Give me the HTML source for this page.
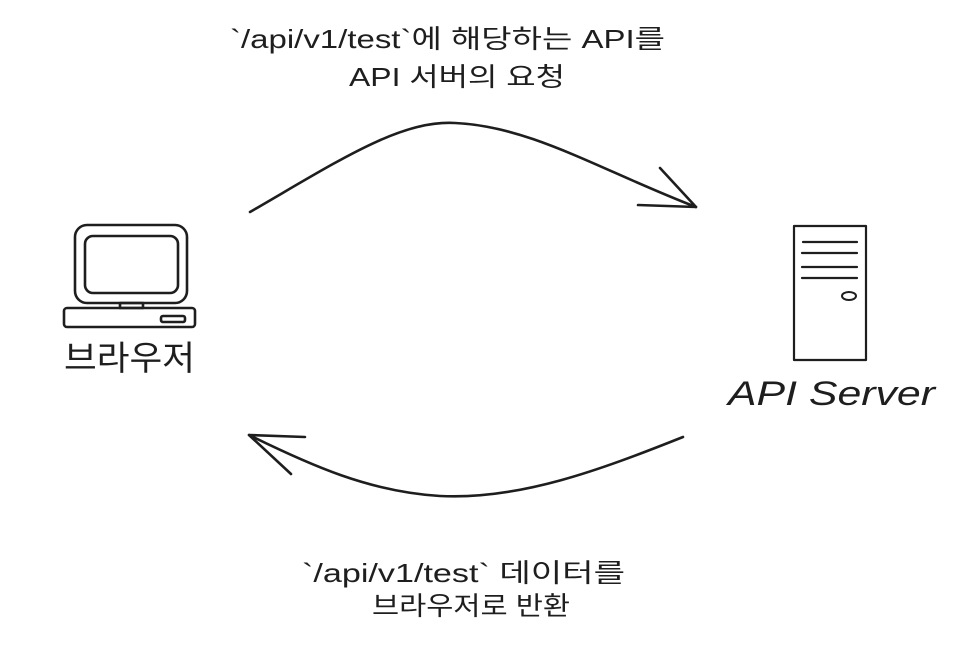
<!DOCTYPE html>
<html><head><meta charset="utf-8"><style>html,body{margin:0;padding:0;background:#fff}svg{display:block}</style></head>
<body>
<svg width="960" height="649" viewBox="0 0 960 649" xmlns="http://www.w3.org/2000/svg">
<g fill="none" stroke="#1e1e1e" stroke-width="2.6" stroke-linecap="round" stroke-linejoin="round">
<path d="M250 212 C340 160 400 120 455 123 C530 126 600 170 696 207"/>
<path d="M660 168 L696 207 L638 205"/>
<path d="M683 437 C600 470 520 500 440 496 C370 492 310 465 249 435"/>
<path d="M305 437 L249 435 L291 474"/>
<rect x="75" y="225" width="112" height="78" rx="12"/>
<rect x="85" y="236" width="93" height="57" rx="8"/>
<rect x="120" y="303" width="23" height="5"/>
<rect x="64" y="308" width="131" height="19" rx="3"/>
<rect x="161" y="316" width="24" height="6" rx="2"/>
<rect x="794" y="226" width="72" height="134" stroke-width="2.2"/>
<path d="M803 242 H857 M802 253 H857 M802 267 H857 M802 278 H857" stroke-width="2.2"/>
<ellipse cx="849" cy="296" rx="7" ry="4" stroke-width="2"/>
</g>
<g fill="#1e1e1e" font-family="'Liberation Sans','Noto Sans CJK KR',sans-serif">
<text x="230" y="48" font-size="26" textLength="435" lengthAdjust="spacingAndGlyphs">`/api/v1/test`에 해당하는 API를</text>
<text x="349" y="86" font-size="26" textLength="216" lengthAdjust="spacingAndGlyphs">API 서버의 요청</text>
<text x="302" y="582" font-size="26" textLength="323" lengthAdjust="spacingAndGlyphs">`/api/v1/test` 데이터를</text>
<text x="372" y="615" font-size="26" textLength="198" lengthAdjust="spacingAndGlyphs">브라우저로 반환</text>
<text x="64" y="370" font-size="34" textLength="131" lengthAdjust="spacingAndGlyphs">브라우저</text>
<text x="728" y="405" font-size="34" textLength="207" lengthAdjust="spacingAndGlyphs" font-style="italic">API Server</text>
</g>
</svg>
</body></html>
